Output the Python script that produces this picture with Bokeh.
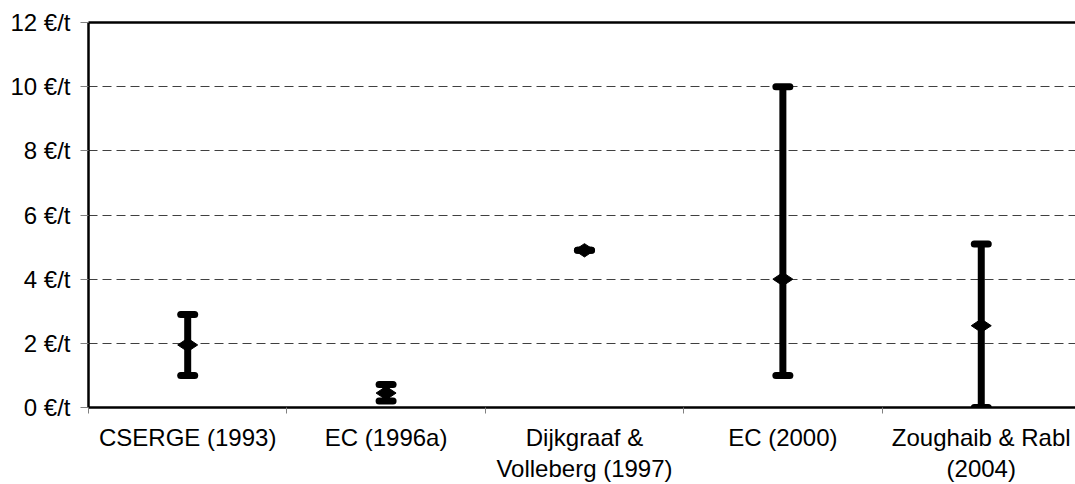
import numpy as np
from bokeh.plotting import figure
from bokeh.models import (ColumnDataSource, Range1d, FixedTicker, LinearAxis,
                          Whisker, TeeHead, Grid)
from bokeh.embed import file_html
from bokeh.resources import INLINE

# ---- data ----
studies = ["CSERGE (1993)", "EC (1996a)", "Dijkgraaf &\nVolleberg (1997)",
           "EC (2000)", "Zoughaib & Rabl\n(2004)"]
low = [1.0, 0.2, 4.9, 1.0, 0.0]
high = [2.9, 0.72, 4.9, 10.0, 5.1]
mid = [1.95, 0.45, 4.9, 4.0, 2.55]
y_ticks = [0, 2, 4, 6, 8, 10, 12]
grid_ticks = [2, 4, 6, 8, 10]
y_labels = {t: f"{t} €/t" for t in y_ticks}

xpos = [i + 0.5 for i in range(len(studies))]
src = ColumnDataSource(dict(x=xpos, low=low, high=high, mid=mid))

FONT = "Liberation Sans"

p = figure(width=1075, height=484, output_backend="svg", toolbar_location=None,
           x_range=Range1d(0, 4.975), y_range=Range1d(0, 12),
           min_border_left=88, min_border_right=0, min_border_top=22,
           min_border_bottom=76, x_axis_type=None, y_axis_type=None)
p.outline_line_color = None
p.background_fill_color = "white"
p.border_fill_color = "white"

# y axis
yax = LinearAxis(ticker=FixedTicker(ticks=y_ticks))
yax.major_label_overrides = y_labels
yax.axis_line_width = 2.5
yax.axis_line_color = "black"
yax.major_tick_in = 0
yax.major_tick_out = 8
yax.major_tick_line_color = "#808080"
yax.minor_tick_line_color = None
yax.major_label_text_font = FONT
yax.major_label_text_font_size = "24px"
yax.major_label_text_color = "black"
yax.major_label_standoff = 10
p.add_layout(yax, "left")

# x axis: labels at category centres, ticks at category boundaries
xax = LinearAxis(ticker=FixedTicker(ticks=xpos,
                                    minor_ticks=list(range(len(studies) + 1))))
xax.major_label_overrides = {x: s for x, s in zip(xpos, studies)}
xax.axis_line_width = 2.5
xax.axis_line_color = "black"
xax.major_tick_in = 0
xax.major_tick_out = 0
xax.minor_tick_in = 0
xax.minor_tick_out = 6
xax.minor_tick_line_color = "#808080"
xax.major_label_text_font = FONT
xax.major_label_text_font_size = "24px"
xax.major_label_text_color = "black"
xax.major_label_text_line_height = 1.15
xax.major_label_standoff = 10
p.add_layout(xax, "below")

# top border line
tax = LinearAxis(ticker=FixedTicker(ticks=[]))
tax.axis_line_width = 2.5
tax.axis_line_color = "black"
tax.major_tick_line_color = None
tax.minor_tick_line_color = None
tax.major_label_text_font_size = "0px"
p.add_layout(tax, "above")

# dashed horizontal grid
grid = Grid(dimension=1, ticker=FixedTicker(ticks=grid_ticks))
grid.grid_line_color = "#404040"
grid.grid_line_dash = "9 5"
grid.grid_line_width = 1
p.add_layout(grid)

# error bars
head = dict(size=14, line_width=7, line_color="black", line_cap="round")
w = Whisker(source=src, base="x", upper="high", lower="low",
            line_width=7, line_color="black",
            upper_head=TeeHead(**head), lower_head=TeeHead(**head))
p.add_layout(w)

p.scatter("x", "mid", source=src, marker="diamond", size=20, angle=np.pi / 2,
          fill_color="black", line_color="black")

open("out.html", "w").write(file_html(p, INLINE))
